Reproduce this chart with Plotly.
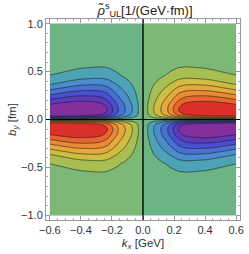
import numpy as np
import plotly.graph_objects as go

# Profiles (quadrant kx>=0, by>=0; the field is odd in kx and by)
kx_nodes = [0.0, 0.03, 0.07, 0.115, 0.16, 0.195, 0.23, 0.27, 0.32, 0.40, 0.45, 0.52, 0.60]
amp_nodes = [0.0, 0.145, 0.29, 0.43, 0.575, 0.715, 0.86, 0.95, 1.0, 1.03, 1.04, 1.03, 1.0]
width_nodes = [1.15, 1.15, 1.14, 1.13, 1.12, 1.10, 1.09, 1.08, 1.06, 1.03, 1.0, 0.95, 0.9]
u_nodes = [0.0, 0.01, 0.02, 0.03, 0.04, 0.05, 0.07, 0.09, 0.115, 0.145, 0.18, 0.24,
           0.295, 0.35, 0.41, 0.52, 0.66, 0.84, 1.0, 1.4]
shape_nodes = [0.0, 0.30, 0.55, 0.72, 0.84, 0.92, 0.98, 1.0, 0.99, 0.94, 0.845, 0.695,
               0.549, 0.412, 0.275, 0.137, 0.05, 0.015, 0.004, 0.0005]

x_ticks = [-0.6, -0.4, -0.2, 0.0, 0.2, 0.4, 0.6]
y_ticks = [-1.0, -0.5, 0.0, 0.5, 1.0]

band_colors = ["#842f9e", "#5b3bbd", "#4a4fd0", "#4a6fd3", "#4a8dcc", "#4ea2b6", "#6cb386",
               "#7cb876", "#a9be52", "#cfbd43", "#e4a83c", "#e98b35", "#e8662e", "#dd2e2a"]

kx = np.linspace(-0.6, 0.6, 241)
by = np.linspace(-1.0, 1.0, 401)
KX, BY = np.meshgrid(kx, by)
A = np.interp(np.abs(KX), kx_nodes, amp_nodes)
W = np.interp(np.abs(KX), kx_nodes, width_nodes)
H = np.interp(np.abs(BY) / W, u_nodes, shape_nodes)
Z = np.sign(KX) * np.sign(BY) * A * H

n = len(band_colors)
colorscale = [[j / (n - 1), c] for j, c in enumerate(band_colors)]

font_family = "Liberation Sans, Arial, sans-serif"

fig = go.Figure()
fig.add_trace(go.Contour(
    x=kx, y=by, z=Z,
    colorscale=colorscale, showscale=False,
    contours=dict(start=-6/7, end=0.86, size=1/7, coloring="fill"),
    line=dict(color="rgba(30,30,30,0.75)", width=0.8, smoothing=1),
    hoverinfo="skip",
))

fig.add_shape(type="line", xref="x", yref="paper", x0=0, x1=0, y0=0, y1=1,
              line=dict(color="black", width=1.2), layer="above")
fig.add_shape(type="line", xref="paper", yref="y", x0=0, x1=1, y0=0, y1=0,
              line=dict(color="black", width=1.2), layer="above")

axis_common = dict(
    ticks="inside", ticklen=4, tickcolor="#999", tickwidth=1,
    showline=True, linecolor="#999", linewidth=1, mirror="ticks",
    showgrid=False, zeroline=False,
    tickfont=dict(family=font_family, size=11, color="#333"),
    tickformat=".1f",
)

fig.update_layout(
    width=249, height=254,
    margin=dict(l=46, r=5, t=19, b=34),
    paper_bgcolor="white", plot_bgcolor="white",
    showlegend=False,
    title=dict(text="<i>ρ̃</i><sup>s</sup><sub>UL</sub>[1/(GeV·fm)]",
               x=145/249, xanchor="center", y=1 - 10/254, yanchor="middle",
               font=dict(family=font_family, size=13, color="#222")),
    xaxis=dict(range=[-0.625, 0.625], tickvals=x_ticks,
               minor=dict(ticks="inside", ticklen=2, dtick=0.05, tickcolor="#aaa", showgrid=False),
               title=dict(text="<i>k</i><sub><i>x</i></sub> [GeV]", standoff=3,
                          font=dict(family=font_family, size=11.5, color="#333")),
               **axis_common),
    yaxis=dict(range=[-1.05, 1.05], tickvals=y_ticks,
               minor=dict(ticks="inside", ticklen=2, dtick=0.1, tickcolor="#aaa", showgrid=False),
               title=dict(text="<i>b</i><sub><i>y</i></sub> [fm]", standoff=2,
                          font=dict(family=font_family, size=11.5, color="#333")),
               **axis_common),
)

fig.write_html("out.html", config={"displayModeBar": False},
               post_script="document.body.style.margin='0';document.body.style.overflow='hidden';")
